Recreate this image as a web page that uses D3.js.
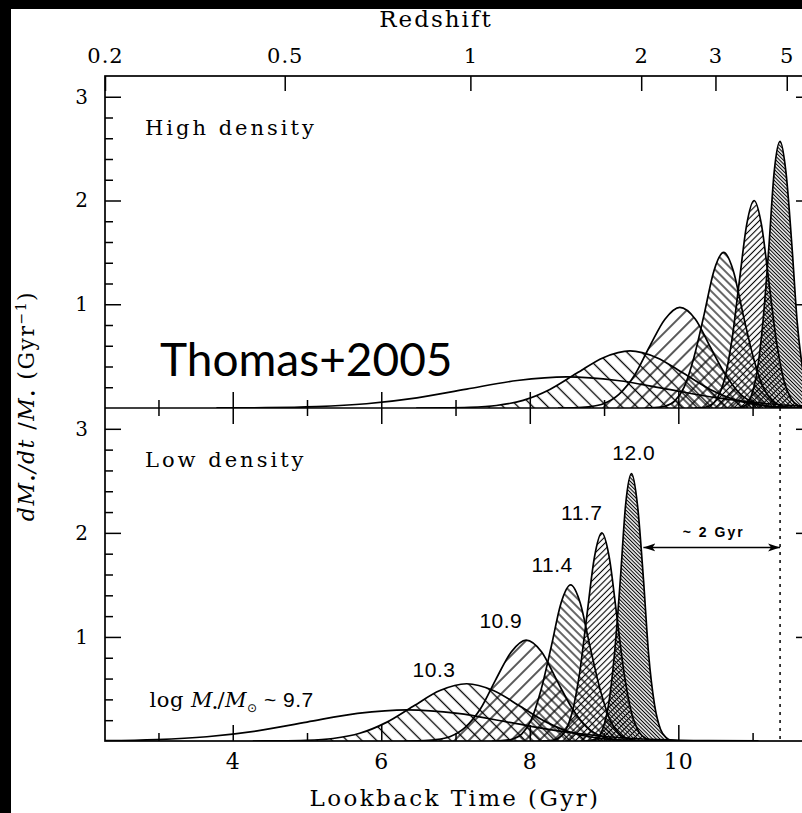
<!DOCTYPE html>
<html>
<head>
<meta charset="utf-8">
<script src="https://cdn.jsdelivr.net/npm/d3@7"></script>
<style>
  html, body { margin: 0; padding: 0; background: #000; }
  svg { display: block; }
</style>
</head>
<body>
<div id="chart"></div>
<script>
// values (Thomas et al. 2005 star formation histories)
const massLabels = ['9.7', '10.3', '10.9', '11.4', '11.7', '12.0'];

// dM*/dt/M* (Gyr^-1) along each curve, same profile in both panels
const sfrRates = [
  [0.001, 0.003, 0.013, 0.041, 0.097, 0.182, 0.265, 0.30, 0.265, 0.182, 0.097, 0.041, 0.013, 0.003, 0.001],
  [0, 0.001, 0.006, 0.024, 0.074, 0.179, 0.334, 0.485, 0.55, 0.485, 0.334, 0.179, 0.074, 0.024, 0.006, 0.001, 0],
  [0, 0.002, 0.011, 0.043, 0.131, 0.315, 0.588, 0.856, 0.97, 0.856, 0.588, 0.315, 0.131, 0.043, 0.011, 0.002, 0],
  [0, 0.003, 0.017, 0.066, 0.203, 0.487, 0.91, 1.324, 1.5, 1.324, 0.91, 0.487, 0.203, 0.066, 0.017, 0.003, 0],
  [0.001, 0.004, 0.022, 0.088, 0.271, 0.649, 1.213, 1.765, 2.0, 1.765, 1.213, 0.649, 0.271, 0.088, 0.022, 0.004, 0.001],
  [0.001, 0.006, 0.029, 0.113, 0.348, 0.834, 1.559, 2.268, 2.57, 2.268, 1.559, 0.834, 0.348, 0.113, 0.029, 0.006, 0.001]
];

// lookback time (Gyr) of those points, low density panel
const lowDensityTimes = [
  [1.63, 2.30, 2.98, 3.65, 4.33, 5.00, 5.68, 6.35, 7.03, 7.70, 8.38, 9.05, 9.73, 10.40, 11.08],
  [4.27, 4.63, 4.99, 5.35, 5.71, 6.07, 6.43, 6.79, 7.15, 7.51, 7.87, 8.23, 8.59, 8.95, 9.31, 9.67, 10.03],
  [6.31, 6.52, 6.72, 6.93, 7.13, 7.34, 7.54, 7.75, 7.95, 8.16, 8.36, 8.57, 8.77, 8.97, 9.18, 9.38, 9.59],
  [7.49, 7.62, 7.76, 7.89, 8.02, 8.15, 8.29, 8.42, 8.55, 8.68, 8.81, 8.95, 9.08, 9.21, 9.34, 9.48, 9.61],
  [8.17, 8.27, 8.37, 8.47, 8.57, 8.67, 8.77, 8.87, 8.97, 9.07, 9.17, 9.27, 9.37, 9.47, 9.57, 9.67, 9.77],
  [8.75, 8.83, 8.91, 8.98, 9.06, 9.14, 9.22, 9.29, 9.37, 9.45, 9.53, 9.60, 9.68, 9.76, 9.84, 9.91, 9.99]
];

// and the high density panel
const highDensityTimes = [
  [3.78, 4.45, 5.13, 5.80, 6.48, 7.15, 7.83, 8.50, 9.18, 9.85, 10.53, 11.20, 11.88, 12.55, 13.23],
  [6.47, 6.83, 7.19, 7.55, 7.91, 8.27, 8.63, 8.99, 9.35, 9.71, 10.07, 10.43, 10.79, 11.15, 11.51, 11.87, 12.23],
  [8.38, 8.59, 8.79, 9.00, 9.20, 9.41, 9.61, 9.82, 10.02, 10.23, 10.43, 10.64, 10.84, 11.04, 11.25, 11.45, 11.66],
  [9.55, 9.68, 9.82, 9.95, 10.08, 10.21, 10.35, 10.48, 10.61, 10.74, 10.87, 11.01, 11.14, 11.27, 11.40, 11.54, 11.67],
  [10.22, 10.32, 10.42, 10.52, 10.62, 10.72, 10.82, 10.92, 11.02, 11.12, 11.22, 11.32, 11.42, 11.52, 11.62, 11.72, 11.82],
  [10.75, 10.83, 10.91, 10.98, 11.06, 11.14, 11.22, 11.29, 11.37, 11.45, 11.53, 11.60, 11.68, 11.76, 11.84, 11.91, 11.99]
];

// mass labels in the low density panel (lookback time, rate of baseline)
const labelTimes = [2.88, 6.71, 7.61, 8.30, 8.70, 9.40];
const labelRates = [0.33, 0.615, 1.09, 1.62, 2.125, 2.70];

// redshift axis on top, placed at lookback times
const redshiftLabels = ['0.2', '0.5', '1', '2', '3', '5'];
const redshiftLookback = [2.28, 4.70, 7.20, 9.50, 10.50, 11.46];

const lookbackMajor = [4, 6, 8, 10];
const lookbackMinor = [3, 5, 7, 9, 11];
const rateMajor = [1, 2, 3];
const rateMinor = [0.2, 0.4, 0.6, 0.8, 1.2, 1.4, 1.6, 1.8, 2.2, 2.4, 2.6, 2.8];

// ~2 Gyr offset arrow and dotted line (low density panel)
const lagStart = 9.53;
const lagEnd = 11.37;
const lagRate = 1.86;

// hatch style per mass bin
const hatchStyles = [
  null,
  { angle: -45, gap: 10.5, width: 1.3 },
  { angle: 45, gap: 10, width: 1.3 },
  { angle: -45, gap: 6, width: 1.2 },
  { angle: 45, gap: 4.4, width: 1.1 },
  { angle: -45, gap: 2.6, width: 1.1 }
];

const width = 802, height = 813;
const plotLeft = 105, plotRight = 812, plotTop = 76, plotMid = 408, plotBottom = 741;
const serif = '"DejaVu Serif", serif';
const sans = '"Liberation Sans", Arial, sans-serif';

const svg = d3.select('#chart').append('svg')
  .attr('width', width)
  .attr('height', height);

svg.append('rect')
  .attr('x', 11).attr('y', 9)
  .attr('width', width - 11).attr('height', height - 9)
  .attr('fill', '#fff');

const x = d3.scaleLinear().domain([2.28, 11.80]).range([plotLeft, plotRight]);
const yHigh = d3.scaleLinear().domain([0, 3.2]).range([plotMid, plotTop]);
const yLow = d3.scaleLinear().domain([0, 3.2]).range([plotBottom, plotMid]);

const defs = svg.append('defs');
hatchStyles.forEach((h, k) => {
  if (!h) return;
  const p = defs.append('pattern')
    .attr('id', 'hatch' + k)
    .attr('patternUnits', 'userSpaceOnUse')
    .attr('width', h.gap)
    .attr('height', h.gap)
    .attr('patternTransform', `rotate(${h.angle})`);
  p.append('line')
    .attr('x1', h.gap / 2).attr('y1', -1)
    .attr('x2', h.gap / 2).attr('y2', h.gap + 1)
    .attr('stroke', '#000')
    .attr('stroke-width', h.width);
});

const panels = [
  { name: 'High density', times: highDensityTimes, y: yHigh },
  { name: 'Low density', times: lowDensityTimes, y: yLow }
];

panels.forEach((panel, i) => {
  const y = panel.y;
  const y0 = y.range()[0], y1 = y.range()[1];

  defs.append('clipPath').attr('id', 'clip' + i)
    .append('rect')
    .attr('x', plotLeft).attr('y', y1)
    .attr('width', plotRight - plotLeft).attr('height', y0 - y1);

  const series = massLabels.map((m, k) => d3.zip(panel.times[k], sfrRates[k]));

  const area = d3.area()
    .x(d => x(d[0]))
    .y0(y(0))
    .y1(d => y(d[1]))
    .curve(d3.curveMonotoneX);
  const line = d3.line()
    .x(d => x(d[0]))
    .y(d => y(d[1]))
    .curve(d3.curveMonotoneX);

  const g = svg.append('g').attr('clip-path', `url(#clip${i})`);

  g.selectAll('.fill')
    .data(series)
    .join('path')
    .attr('class', 'fill')
    .attr('d', area)
    .attr('fill', (d, k) => hatchStyles[k] ? `url(#hatch${k})` : 'none');

  g.selectAll('.curve')
    .data(series)
    .join('path')
    .attr('class', 'curve')
    .attr('d', line)
    .attr('fill', 'none')
    .attr('stroke', '#000')
    .attr('stroke-width', 1.7);

  // y ticks, left and right
  const yAxes = [
    [d3.axisLeft(y).tickValues(rateMajor).tickSizeInner(-16).tickSizeOuter(0).tickPadding(17).tickFormat(d3.format('d')), plotLeft],
    [d3.axisLeft(y).tickValues(rateMinor).tickSizeInner(-8).tickSizeOuter(0).tickFormat(''), plotLeft],
    [d3.axisRight(y).tickValues(rateMajor).tickSizeInner(-16).tickSizeOuter(0).tickFormat(''), plotRight],
    [d3.axisRight(y).tickValues(rateMinor).tickSizeInner(-8).tickSizeOuter(0).tickFormat(''), plotRight]
  ];
  yAxes.forEach(([ax, xpos]) => {
    svg.append('g')
      .attr('transform', `translate(${xpos},0)`)
      .call(ax)
      .call(a => a.select('.domain').remove())
      .call(a => a.selectAll('line').attr('stroke', '#000').attr('stroke-width', 1.5))
      .call(a => a.selectAll('text').attr('font-family', serif).attr('font-size', 20).attr('fill', '#000'));
  });

  // lookback ticks on the shared middle line (both panels)
  const tickUp = i === 0;
  [[lookbackMajor, 16], [lookbackMinor, 8]].forEach(([vals, len]) => {
    const ax = tickUp ? d3.axisBottom(x) : d3.axisTop(x);
    svg.append('g')
      .attr('transform', `translate(0,${plotMid})`)
      .call(ax.tickValues(vals).tickSizeInner(-len).tickSizeOuter(0).tickFormat(''))
      .call(a => a.select('.domain').remove())
      .call(a => a.selectAll('line').attr('stroke', '#000').attr('stroke-width', 1.5));
  });

  svg.append('text')
    .attr('x', 145)
    .attr('y', y1 + 59)
    .attr('font-family', serif)
    .attr('font-size', 21)
    .attr('letter-spacing', 3)
    .text(panel.name);
});

// bottom lookback axis
svg.append('g')
  .attr('transform', `translate(0,${plotBottom})`)
  .call(d3.axisBottom(x).tickValues(lookbackMajor).tickSizeInner(-16).tickSizeOuter(0).tickPadding(12))
  .call(a => a.select('.domain').remove())
  .call(a => a.selectAll('line').attr('stroke', '#000').attr('stroke-width', 1.5))
  .call(a => a.selectAll('text').attr('font-family', serif).attr('font-size', 22).attr('letter-spacing', 1).attr('fill', '#000'));
svg.append('g')
  .attr('transform', `translate(0,${plotBottom})`)
  .call(d3.axisBottom(x).tickValues(lookbackMinor).tickSizeInner(-8).tickSizeOuter(0).tickFormat(''))
  .call(a => a.select('.domain').remove())
  .call(a => a.selectAll('line').attr('stroke', '#000').attr('stroke-width', 1.5));

// top redshift axis
svg.append('g')
  .attr('transform', `translate(0,${plotTop})`)
  .call(d3.axisTop(x).tickValues(redshiftLookback).tickSizeInner(-15).tickSizeOuter(0).tickPadding(13)
    .tickFormat((d, k) => redshiftLabels[k]))
  .call(a => a.select('.domain').remove())
  .call(a => a.selectAll('line').attr('stroke', '#000').attr('stroke-width', 1.5))
  .call(a => a.selectAll('text').attr('font-family', serif).attr('font-size', 21).attr('letter-spacing', 1).attr('fill', '#000'));

// frames
svg.append('rect')
  .attr('x', plotLeft).attr('y', plotTop)
  .attr('width', plotRight - plotLeft).attr('height', plotBottom - plotTop)
  .attr('fill', 'none').attr('stroke', '#000').attr('stroke-width', 1.7);
svg.append('line')
  .attr('x1', plotLeft).attr('x2', plotRight)
  .attr('y1', plotMid).attr('y2', plotMid)
  .attr('stroke', '#000').attr('stroke-width', 1.7);

// dotted line and ~2 Gyr arrow
svg.append('line')
  .attr('x1', x(lagEnd)).attr('x2', x(lagEnd))
  .attr('y1', yLow(3.2)).attr('y2', yLow(0))
  .attr('stroke', '#000').attr('stroke-width', 1.5)
  .attr('stroke-dasharray', '3,5');

['arrowStart', 'arrowEnd'].forEach((id, k) => {
  defs.append('marker')
    .attr('id', id)
    .attr('viewBox', '0 -5 12 10')
    .attr('refX', 12).attr('refY', 0)
    .attr('markerWidth', 12).attr('markerHeight', 10)
    .attr('markerUnits', 'userSpaceOnUse')
    .attr('orient', k === 0 ? 'auto-start-reverse' : 'auto')
    .append('path')
    .attr('d', 'M0,-4L12,0L0,4L3,0Z')
    .attr('fill', '#000');
});
svg.append('line')
  .attr('x1', x(lagStart)).attr('x2', x(lagEnd))
  .attr('y1', yLow(lagRate)).attr('y2', yLow(lagRate))
  .attr('stroke', '#000').attr('stroke-width', 1.4)
  .attr('marker-start', 'url(#arrowStart)')
  .attr('marker-end', 'url(#arrowEnd)');
svg.append('text')
  .attr('x', (x(lagStart) + x(lagEnd)) / 2 + 2)
  .attr('y', yLow(lagRate) - 10)
  .attr('text-anchor', 'middle')
  .attr('font-family', sans)
  .attr('font-size', 14)
  .attr('font-weight', 'bold')
  .attr('letter-spacing', 2)
  .text('~ 2 Gyr');

// mass labels
massLabels.forEach((m, k) => {
  const t = svg.append('text')
    .attr('x', x(labelTimes[k]))
    .attr('y', yLow(labelRates[k]))
    .attr('font-size', 21)
    .attr('letter-spacing', 0.5)
    .attr('font-family', sans);
  if (k === 0) {
    t.attr('text-anchor', 'start');
    t.append('tspan').attr('font-family', serif).text('log ');
    t.append('tspan').attr('font-family', serif).attr('font-style', 'italic').text('M');
    t.append('tspan').attr('font-size', 11).attr('dy', 4).text('\u2022');
    t.append('tspan').attr('font-family', serif).attr('dy', -4).text('/');
    t.append('tspan').attr('font-family', serif).attr('font-style', 'italic').text('M');
    t.append('tspan').attr('font-family', '"DejaVu Sans", sans-serif').attr('font-size', 12).attr('dy', 5).text('\u2299');
    t.append('tspan').attr('dy', -5).text(' ~ ' + m);
  } else {
    t.attr('text-anchor', 'middle').text(m);
  }
});

// axis titles
svg.append('text')
  .attr('x', 436).attr('y', 27)
  .attr('text-anchor', 'middle')
  .attr('font-family', serif)
  .attr('font-size', 23)
  .attr('letter-spacing', 2)
  .text('Redshift');

svg.append('text')
  .attr('x', 455).attr('y', 806)
  .attr('text-anchor', 'middle')
  .attr('font-family', serif)
  .attr('font-size', 23)
  .attr('letter-spacing', 2.4)
  .text('Lookback Time (Gyr)');

const yTitle = svg.append('text')
  .attr('transform', 'translate(34,406) rotate(-90)')
  .attr('text-anchor', 'middle')
  .attr('font-family', serif)
  .attr('font-size', 22)
  .attr('letter-spacing', 1.5);
yTitle.append('tspan').attr('font-style', 'italic').text('dM');
yTitle.append('tspan').attr('font-size', 12).attr('dy', 4).text('\u2022');
yTitle.append('tspan').attr('dy', -4).attr('font-style', 'italic').text('/dt');
yTitle.append('tspan').text(' /');
yTitle.append('tspan').attr('font-style', 'italic').text('M');
yTitle.append('tspan').attr('font-size', 12).attr('dy', 4).text('\u2022');
yTitle.append('tspan').attr('dy', -4).text(' (Gyr');
yTitle.append('tspan').attr('font-size', 14).attr('dy', -8).text('\u22121');
yTitle.append('tspan').attr('dy', 8).text(')');

// citation overlay
svg.append('text')
  .attr('x', 160).attr('y', 376)
  .attr('font-family', 'Lato, "Open Sans", sans-serif')
  .attr('font-size', 46)
  .text('Thomas+2005');
</script>
</body>
</html>
